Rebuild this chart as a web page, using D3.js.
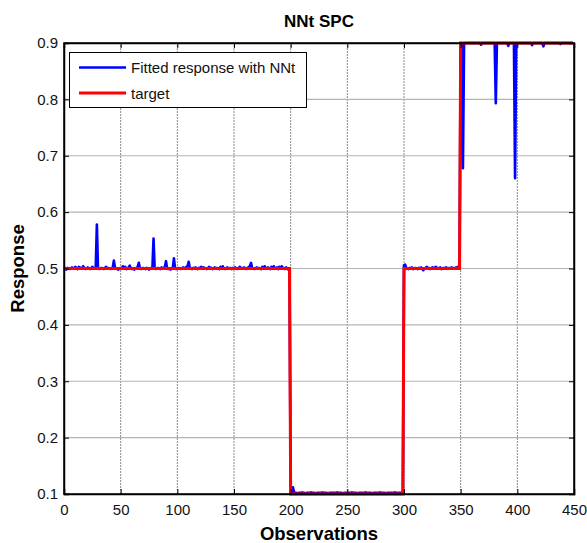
<!DOCTYPE html>
<html>
<head>
<meta charset="utf-8">
<script src="https://cdn.jsdelivr.net/npm/d3@7"></script>
<style>
  html, body { margin: 0; padding: 0; background: #fff; }
  svg { display: block; font-family: "Liberation Sans", Arial, Helvetica, sans-serif; }
</style>
</head>
<body>
<svg id="chart" width="587" height="543"></svg>
<script>
// ---------------- DATA ----------------
const title = "NNt SPC";
const xLabel = "Observations";
const yLabel = "Response";
const seriesNames = ["Fitted response with NNt", "target"];
const xTicks = [0, 50, 100, 150, 200, 250, 300, 350, 400, 450];
const yTicks = [0.1, 0.2, 0.3, 0.4, 0.5, 0.6, 0.7, 0.8, 0.9];

// Fitted response (observations 0..449)
const fitted = [
  0.499,0.500,0.498,0.501,0.500,0.499,0.500,0.502,0.500,0.501,0.503,0.500,0.499,0.503,0.502,0.500,0.501,0.504,0.500,0.499,
  0.500,0.502,0.500,0.499,0.500,0.503,0.501,0.500,0.502,0.578,0.500,0.499,0.500,0.501,0.500,0.499,0.500,0.503,0.500,0.501,
  0.500,0.499,0.500,0.502,0.514,0.501,0.500,0.499,0.498,0.500,0.501,0.500,0.504,0.500,0.503,0.499,0.500,0.502,0.505,0.500,
  0.499,0.500,0.498,0.500,0.501,0.503,0.510,0.500,0.499,0.500,0.501,0.500,0.499,0.501,0.500,0.498,0.500,0.501,0.502,0.553,
  0.500,0.499,0.500,0.501,0.500,0.499,0.502,0.500,0.501,0.503,0.513,0.500,0.499,0.500,0.498,0.500,0.501,0.518,0.500,0.499,
  0.500,0.501,0.500,0.499,0.500,0.502,0.501,0.500,0.503,0.504,0.512,0.501,0.500,0.499,0.501,0.500,0.502,0.500,0.499,0.501,
  0.500,0.503,0.500,0.502,0.501,0.500,0.499,0.500,0.503,0.500,0.501,0.499,0.500,0.502,0.500,0.501,0.500,0.499,0.503,0.500,
  0.504,0.500,0.499,0.500,0.502,0.500,0.501,0.500,0.499,0.501,0.500,0.502,0.500,0.499,0.500,0.503,0.500,0.501,0.500,0.502,
  0.500,0.499,0.500,0.503,0.504,0.510,0.501,0.500,0.499,0.500,0.502,0.500,0.501,0.500,0.499,0.503,0.500,0.504,0.501,0.500,
  0.502,0.500,0.499,0.503,0.500,0.504,0.501,0.500,0.502,0.499,0.503,0.500,0.504,0.500,0.501,0.499,0.502,0.500,0.498,0.495,
  0.104,0.101,0.112,0.103,0.102,0.102,0.101,0.102,0.102,0.102,0.103,0.102,0.102,0.101,0.102,0.102,0.102,0.102,0.103,0.102,
  0.102,0.102,0.101,0.102,0.102,0.102,0.102,0.102,0.103,0.102,0.102,0.102,0.102,0.101,0.102,0.102,0.102,0.102,0.102,0.102,
  0.102,0.103,0.102,0.102,0.102,0.102,0.101,0.102,0.102,0.102,0.102,0.102,0.102,0.102,0.103,0.102,0.102,0.102,0.102,0.101,
  0.102,0.102,0.102,0.102,0.102,0.102,0.103,0.102,0.102,0.102,0.102,0.102,0.101,0.102,0.102,0.102,0.102,0.102,0.102,0.103,
  0.102,0.102,0.102,0.102,0.101,0.102,0.102,0.102,0.102,0.102,0.102,0.102,0.103,0.102,0.102,0.102,0.102,0.102,0.102,0.101,
  0.506,0.507,0.501,0.500,0.499,0.501,0.500,0.502,0.499,0.500,0.501,0.500,0.499,0.501,0.500,0.502,0.500,0.497,0.500,0.501,
  0.503,0.500,0.501,0.499,0.500,0.502,0.501,0.500,0.503,0.500,0.501,0.500,0.502,0.499,0.500,0.501,0.500,0.502,0.501,0.500,
  0.501,0.500,0.502,0.500,0.501,0.500,0.502,0.501,0.503,0.507,
  0.900,0.898,0.678,0.899,0.900,0.900,0.900,0.900,0.900,0.900,0.900,0.900,0.900,0.900,0.900,0.900,0.900,0.900,0.897,0.900,
  0.900,0.900,0.900,0.900,0.900,0.900,0.900,0.900,0.900,0.900,0.900,0.793,0.900,0.900,0.900,0.900,0.900,0.900,0.900,0.900,
  0.900,0.900,0.895,0.900,0.900,0.900,0.900,0.900,0.660,0.900,0.900,0.900,0.900,0.900,0.900,0.900,0.900,0.900,0.900,0.900,
  0.900,0.900,0.900,0.896,0.900,0.900,0.900,0.900,0.900,0.900,0.900,0.900,0.900,0.894,0.900,0.900,0.900,0.900,0.900,0.900,
  0.900,0.900,0.900,0.900,0.900,0.900,0.900,0.900,0.898,0.900,0.900,0.900,0.900,0.900,0.900,0.900,0.900,0.900,0.900,0.900
];

// Target (observations 0..449)
const target = [
  0.5,0.5,0.5,0.5,0.5,0.5,0.5,0.5,0.5,0.5,0.5,0.5,0.5,0.5,0.5,0.5,0.5,0.5,0.5,0.5,0.5,0.5,0.5,0.5,0.5,
  0.5,0.5,0.5,0.5,0.5,0.5,0.5,0.5,0.5,0.5,0.5,0.5,0.5,0.5,0.5,0.5,0.5,0.5,0.5,0.5,0.5,0.5,0.5,0.5,0.5,
  0.5,0.5,0.5,0.5,0.5,0.5,0.5,0.5,0.5,0.5,0.5,0.5,0.5,0.5,0.5,0.5,0.5,0.5,0.5,0.5,0.5,0.5,0.5,0.5,0.5,
  0.5,0.5,0.5,0.5,0.5,0.5,0.5,0.5,0.5,0.5,0.5,0.5,0.5,0.5,0.5,0.5,0.5,0.5,0.5,0.5,0.5,0.5,0.5,0.5,0.5,
  0.5,0.5,0.5,0.5,0.5,0.5,0.5,0.5,0.5,0.5,0.5,0.5,0.5,0.5,0.5,0.5,0.5,0.5,0.5,0.5,0.5,0.5,0.5,0.5,0.5,
  0.5,0.5,0.5,0.5,0.5,0.5,0.5,0.5,0.5,0.5,0.5,0.5,0.5,0.5,0.5,0.5,0.5,0.5,0.5,0.5,0.5,0.5,0.5,0.5,0.5,
  0.5,0.5,0.5,0.5,0.5,0.5,0.5,0.5,0.5,0.5,0.5,0.5,0.5,0.5,0.5,0.5,0.5,0.5,0.5,0.5,0.5,0.5,0.5,0.5,0.5,
  0.5,0.5,0.5,0.5,0.5,0.5,0.5,0.5,0.5,0.5,0.5,0.5,0.5,0.5,0.5,0.5,0.5,0.5,0.5,0.5,0.5,0.5,0.5,0.5,0.5,
  0.1,0.1,0.1,0.1,0.1,0.1,0.1,0.1,0.1,0.1,0.1,0.1,0.1,0.1,0.1,0.1,0.1,0.1,0.1,0.1,0.1,0.1,0.1,0.1,0.1,
  0.1,0.1,0.1,0.1,0.1,0.1,0.1,0.1,0.1,0.1,0.1,0.1,0.1,0.1,0.1,0.1,0.1,0.1,0.1,0.1,0.1,0.1,0.1,0.1,0.1,
  0.1,0.1,0.1,0.1,0.1,0.1,0.1,0.1,0.1,0.1,0.1,0.1,0.1,0.1,0.1,0.1,0.1,0.1,0.1,0.1,0.1,0.1,0.1,0.1,0.1,
  0.1,0.1,0.1,0.1,0.1,0.1,0.1,0.1,0.1,0.1,0.1,0.1,0.1,0.1,0.1,0.1,0.1,0.1,0.1,0.1,0.1,0.1,0.1,0.1,0.1,
  0.5,0.5,0.5,0.5,0.5,0.5,0.5,0.5,0.5,0.5,0.5,0.5,0.5,0.5,0.5,0.5,0.5,0.5,0.5,0.5,0.5,0.5,0.5,0.5,0.5,
  0.5,0.5,0.5,0.5,0.5,0.5,0.5,0.5,0.5,0.5,0.5,0.5,0.5,0.5,0.5,0.5,0.5,0.5,0.5,0.5,0.5,0.5,0.5,0.5,0.5,
  0.9,0.9,0.9,0.9,0.9,0.9,0.9,0.9,0.9,0.9,0.9,0.9,0.9,0.9,0.9,0.9,0.9,0.9,0.9,0.9,0.9,0.9,0.9,0.9,0.9,
  0.9,0.9,0.9,0.9,0.9,0.9,0.9,0.9,0.9,0.9,0.9,0.9,0.9,0.9,0.9,0.9,0.9,0.9,0.9,0.9,0.9,0.9,0.9,0.9,0.9,
  0.9,0.9,0.9,0.9,0.9,0.9,0.9,0.9,0.9,0.9,0.9,0.9,0.9,0.9,0.9,0.9,0.9,0.9,0.9,0.9,0.9,0.9,0.9,0.9,0.9,
  0.9,0.9,0.9,0.9,0.9,0.9,0.9,0.9,0.9,0.9,0.9,0.9,0.9,0.9,0.9,0.9,0.9,0.9,0.9,0.9,0.9,0.9,0.9,0.9,0.9
];
const colors = ["#0000ff", "#ff0000"];

// ---------------- CHART ----------------
const W = 587, H = 543;
const m = { left: 64, right: 13, top: 43, bottom: 49 };
const svg = d3.select("#chart");

const x = d3.scaleLinear().domain([0, 450]).range([m.left, W - m.right]);
const y = d3.scaleLinear().domain([0.1, 0.9]).range([H - m.bottom, m.top]);

// grid
const grid = svg.append("g");
grid.selectAll("line.v").data(xTicks.slice(1, -1)).join("line")
  .attr("x1", d => x(d)).attr("x2", d => x(d))
  .attr("y1", y(0.1)).attr("y2", y(0.9))
  .attr("stroke", "#8a8a8a").attr("stroke-width", 1).attr("stroke-dasharray", "2,1");
grid.selectAll("line.h").data(yTicks.slice(1, -1)).join("line")
  .attr("x1", x(0)).attr("x2", x(450))
  .attr("y1", d => y(d)).attr("y2", d => y(d))
  .attr("stroke", "#b4b4b4").attr("stroke-width", 1.2);

// lines
const line = d3.line().x((d, i) => x(i)).y(d => y(d));
svg.append("path").datum(fitted).attr("d", line)
  .attr("fill", "none").attr("stroke", colors[0]).attr("stroke-width", 2.6)
  .attr("stroke-linejoin", "round");
svg.append("path").datum(target).attr("d", line)
  .attr("fill", "none").attr("stroke", colors[1]).attr("stroke-width", 3)
  .attr("stroke-linejoin", "miter");

// axes
const tickFont = g => g.selectAll("text").attr("font-size", 15)
  .attr("font-family", "'Liberation Sans', Arial, Helvetica, sans-serif").attr("fill", "#111");
const fmtY = d3.format(".1f");
svg.append("g").attr("transform", `translate(0,${y(0.1)})`)
  .call(d3.axisBottom(x).tickValues(xTicks).tickSize(-5).tickPadding(10).tickFormat(d3.format("d")))
  .call(tickFont);
svg.append("g").attr("transform", `translate(0,${y(0.9)})`)
  .call(d3.axisTop(x).tickValues(xTicks).tickSize(-5).tickFormat(""));
svg.append("g").attr("transform", `translate(${x(0)},0)`)
  .call(d3.axisLeft(y).tickValues(yTicks).tickSize(-5).tickPadding(6).tickFormat(fmtY))
  .call(tickFont);
svg.append("g").attr("transform", `translate(${x(450)},0)`)
  .call(d3.axisRight(y).tickValues(yTicks).tickSize(-5).tickFormat(""));
svg.selectAll(".domain").attr("stroke", "#000").attr("stroke-width", 1.5);
svg.selectAll(".tick line").attr("stroke", "#000");

// frame
svg.append("rect").attr("x", x(0)).attr("y", y(0.9))
  .attr("width", x(450) - x(0)).attr("height", y(0.1) - y(0.9))
  .attr("fill", "none").attr("stroke", "#000").attr("stroke-width", 1.5);

// title and labels
svg.append("text").attr("x", (x(0) + x(450)) / 2).attr("y", 27)
  .attr("text-anchor", "middle").attr("font-size", 17).attr("font-weight", "bold").text(title);
svg.append("text").attr("x", (x(0) + x(450)) / 2).attr("y", 540)
  .attr("text-anchor", "middle").attr("font-size", 18.5).attr("font-weight", "bold").text(xLabel);
svg.append("text").attr("transform", `translate(24,${(y(0.1) + y(0.9)) / 2}) rotate(-90)`)
  .attr("text-anchor", "middle").attr("font-size", 18.5).attr("font-weight", "bold").text(yLabel);

// legend
const lg = svg.append("g");
lg.append("rect").attr("x", 69.5).attr("y", 52.5).attr("width", 237).attr("height", 55)
  .attr("fill", "#fff").attr("stroke", "#000").attr("stroke-width", 1);
seriesNames.forEach((name, i) => {
  const yy = 67.5 + i * 25.5;
  lg.append("line").attr("x1", 79).attr("x2", 126).attr("y1", yy).attr("y2", yy)
    .attr("stroke", colors[i]).attr("stroke-width", i === 0 ? 2.6 : 3);
  lg.append("text").attr("x", 131).attr("y", yy + 5.5).attr("font-size", 15).attr("fill", "#111").text(name);
});
</script>
</body>
</html>
